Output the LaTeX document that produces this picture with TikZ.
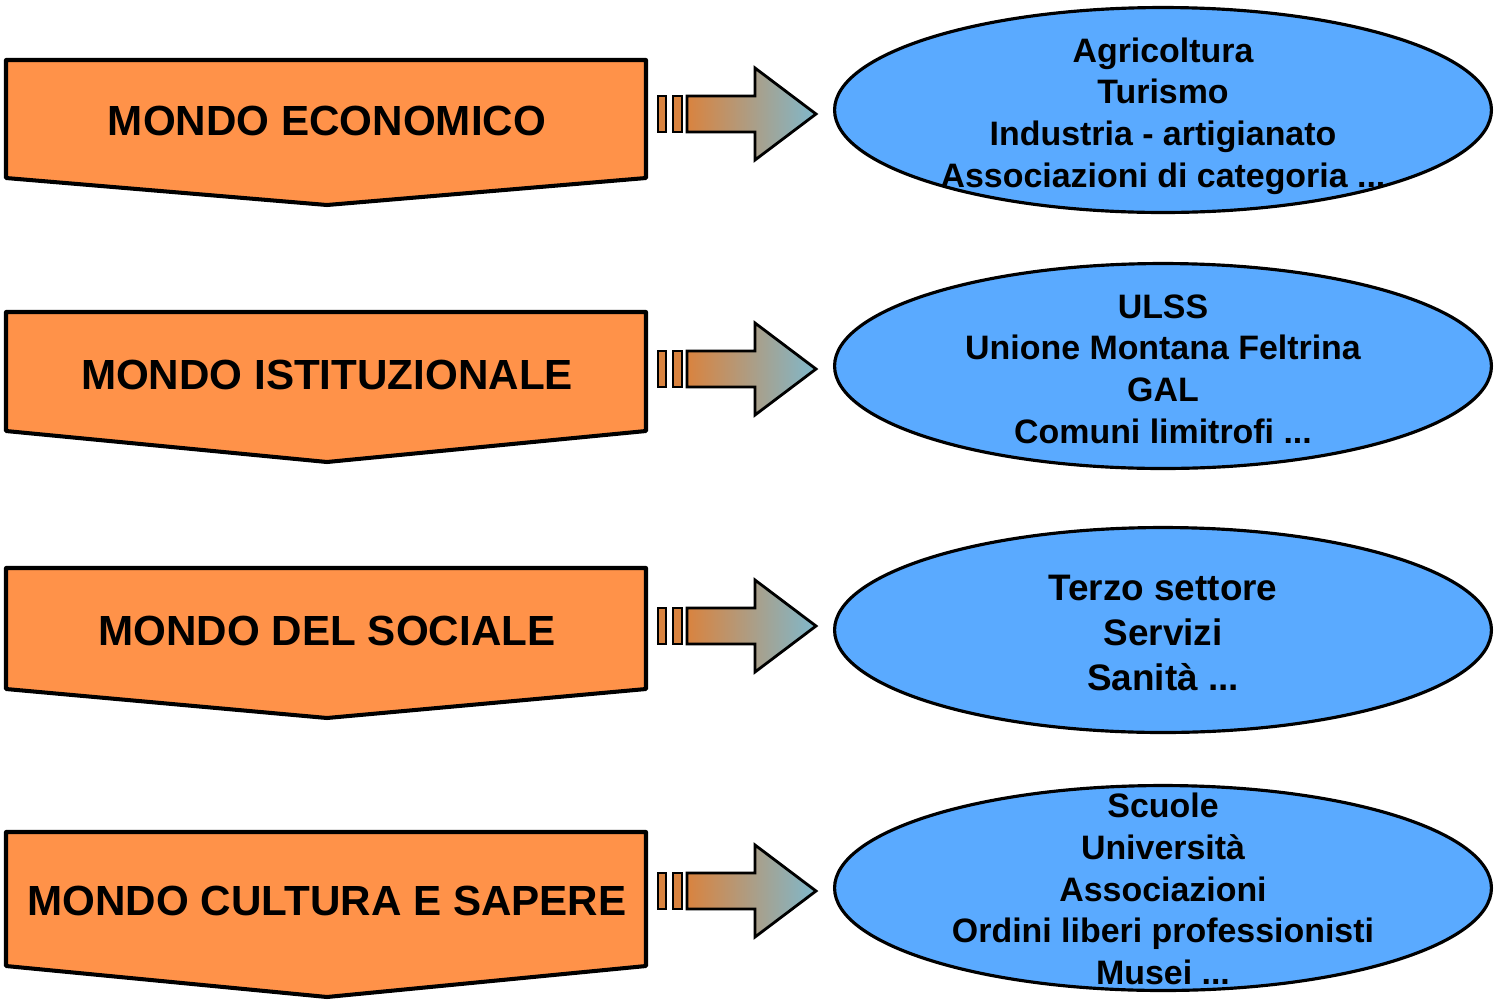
\documentclass[tikz,border=0pt]{standalone}
\usepackage{fontspec}
\setmainfont{Liberation Sans}
\usetikzlibrary{shapes.geometric}

\definecolor{arancio}{HTML}{FF9249}
\definecolor{azzurro}{HTML}{5AAAFF}
\definecolor{frecciaA}{HTML}{D9833F}
\definecolor{frecciaB}{HTML}{7FB8CC}

\tikzset{
  mondo/.style={draw=black, line width=2.3pt, fill=arancio, line join=round},
  titolo/.style={font=\bfseries\fontsize{24}{28}\selectfont},
  settore/.style={ellipse, draw=black, line width=1.8pt, fill=azzurro,
    minimum width=13.14cm, minimum height=4.1cm, inner sep=0pt},
  voce/.style={align=center, font=\bfseries\fontsize{19.3}{23.7}\selectfont},
  freccia/.style={draw=black, line width=1.6pt, line join=miter,
    left color=frecciaA, right color=frecciaB},
  barra/.style={draw=black, line width=1.6pt, fill=frecciaA}
}

\begin{document}
\begin{tikzpicture}[x=0.02cm, y=-0.02cm]
\useasboundingbox (0,0) rectangle (1498,1002);

\foreach \n/\top/\side/\tip/\ty/\ay/\ey/\nome in {
    1/60/178/205/121/114/110/MONDO ECONOMICO,
    2/312/431/462/375/369/366/MONDO ISTITUZIONALE,
    3/568/689/718/631/626/630/MONDO DEL SOCIALE,
    4/832/966/997/901/891/888/MONDO CULTURA E SAPERE}{
  % mondo
  \draw[mondo] (6,\top) -- (646,\top) -- (646,\side) -- (327,\tip) -- (6,\side) -- cycle;
  \node[titolo] (m\n) at (327,\ty) {\nome};
  % freccia
  \draw[barra] (658,\ay-18) rectangle (666,\ay+18);
  \draw[barra] (673,\ay-18) rectangle (682,\ay+18);
  \draw[freccia] (687,\ay-18) -- (755,\ay-18) -- (755,\ay-46) -- (816,\ay)
    -- (755,\ay+46) -- (755,\ay+18) -- (687,\ay+18) -- cycle;
  % settori
  \node[settore] (e\n) at (1163,\ey) {};
}

\node[voce] (t1) at (1163,116) {Agricoltura\\Turismo\\Industria - artigianato\\Associazioni di categoria ...};
\node[voce] (t2) at (1163,369) {ULSS\\Unione Montana Feltrina\\GAL\\Comuni limitrofi ...};
\node[voce, font=\bfseries\fontsize{21}{25.6}\selectfont] (t3) at (1163,633) {Terzo settore\\Servizi\\Sanità ...};
\node[voce] (t4) at (1163,889) {Scuole\\Università\\Associazioni\\Ordini liberi professionisti\\Musei ...};
\end{tikzpicture}
\end{document}
